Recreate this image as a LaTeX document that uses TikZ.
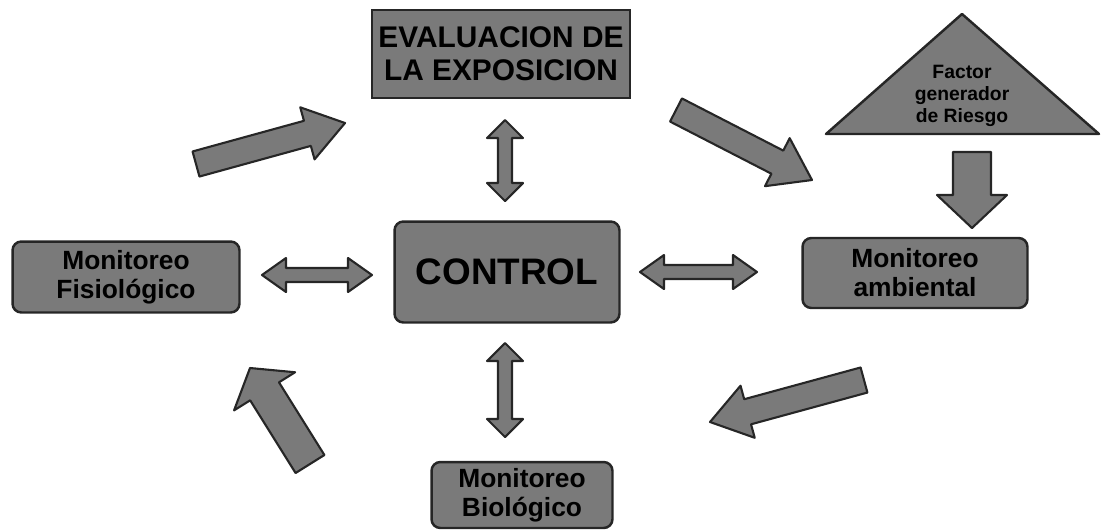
\documentclass[tikz,border=0pt]{standalone}
\usepackage{fontspec}
\setmainfont{Liberation Sans}
\usepackage{tikz}
\usetikzlibrary{calc,positioning}
\tikzset{
  card/.style={rectangle,draw=black!85,line width=1.4pt,fill=black!52,text=black,font=\bfseries,align=center,inner sep=0pt},
  rcard/.style={card,rounded corners=5pt},
  blk/.style={draw=black!85,line width=1.2pt,fill=black!52,line join=round},
  % sizes in pixels, 1px = 0.02cm
}
% tail, tip, half shaft, half head, head length
\newcommand{\fatarrow}[5]{%
  \coordinate (fh) at ($(#2)!#5!(#1)$);
  \path[blk] ($(#1)!#3!90:(#2)$) -- ($(fh)!#3!90:(#2)$) -- ($(fh)!#4!90:(#2)$) -- (#2)
    -- ($(fh)!#4!-90:(#2)$) -- ($(fh)!#3!-90:(#2)$) -- ($(#1)!#3!-90:(#2)$) -- cycle;
}
% end, end, half shaft, half head, head length
\newcommand{\twinarrow}[5]{%
  \coordinate (ha) at ($(#1)!#5!(#2)$);
  \coordinate (hb) at ($(#2)!#5!(#1)$);
  \path[blk] (#1) -- ($(ha)!#4!90:(#2)$) -- ($(ha)!#3!90:(#2)$) -- ($(hb)!#3!-90:(#1)$)
    -- ($(hb)!#4!-90:(#1)$) -- (#2) -- ($(hb)!#4!90:(#1)$) -- ($(hb)!#3!90:(#1)$)
    -- ($(ha)!#3!-90:(#2)$) -- ($(ha)!#4!-90:(#2)$) -- cycle;
}
\begin{document}
\begin{tikzpicture}[x=0.02cm,y=-0.02cm]
  \useasboundingbox (0,0) rectangle (1101,529);
  % boxes
  \node[card,minimum width=5.16cm,minimum height=1.76cm,font=\bfseries\fontsize{17}{19}\selectfont] (eval) at (501,54) {EVALUACION DE\\LA EXPOSICION};
  \node[rcard,minimum width=4.5cm,minimum height=2.02cm,font=\bfseries\fontsize{21}{23}\selectfont] (ctrl) at (507,272) {CONTROL};
  \node[rcard,minimum width=4.54cm,minimum height=1.42cm,font=\bfseries\fontsize{15}{16.5}\selectfont] (fisio) at (126,277) {Monitoreo\\Fisiológico};
  \node[rcard,minimum width=4.5cm,minimum height=1.4cm,font=\bfseries\fontsize{15}{16.5}\selectfont] (amb) at (915,273) {Monitoreo\\ambiental};
  \node[rcard,minimum width=3.62cm,minimum height=1.32cm,font=\bfseries\fontsize{15}{16.5}\selectfont] (bio) at (522,495) {Monitoreo\\Biológico};
  % triangle
  \coordinate (tt) at (962,14);
  \coordinate (tl) at (826,134);
  \coordinate (tr) at (1099,134);
  \path[blk,line width=1.4pt] (tt) -- (tl) -- (tr) -- cycle;
  \node[font=\bfseries\fontsize{11}{12.5}\selectfont,align=center] (fact) at (962,96) {Factor\\generador\\de Riesgo};
  % double arrows
  \coordinate (v1a) at (505,120); \coordinate (v1b) at (505,201);
  \coordinate (h1a) at (262,275); \coordinate (h1b) at (372,275);
  \coordinate (h2a) at (640,272); \coordinate (h2b) at (757,272);
  \coordinate (v2a) at (505,343); \coordinate (v2b) at (505,437);
  \twinarrow{v1a}{v1b}{0.14cm}{0.36cm}{0.36cm}
  \twinarrow{h1a}{h1b}{0.14cm}{0.34cm}{0.48cm}
  \twinarrow{h2a}{h2b}{0.14cm}{0.34cm}{0.48cm}
  \twinarrow{v2a}{v2b}{0.14cm}{0.36cm}{0.36cm}
  % block arrows
  \coordinate (ula) at (196,164); \coordinate (ulb) at (345,123);
  \coordinate (ura) at (676,110); \coordinate (urb) at (812,180);
  \coordinate (dna) at (972,152); \coordinate (dnb) at (972,228);
  \coordinate (lra) at (864,380); \coordinate (lrb) at (710,422);
  \coordinate (lla) at (310,464); \coordinate (llb) at (250,368);
  \fatarrow{ula}{ulb}{0.26cm}{0.54cm}{0.78cm}
  \fatarrow{ura}{urb}{0.26cm}{0.54cm}{0.78cm}
  \fatarrow{dna}{dnb}{0.38cm}{0.7cm}{0.66cm}
  \fatarrow{lra}{lrb}{0.26cm}{0.54cm}{0.78cm}
  \fatarrow{lla}{llb}{0.34cm}{0.72cm}{0.55cm}
\end{tikzpicture}
\end{document}
